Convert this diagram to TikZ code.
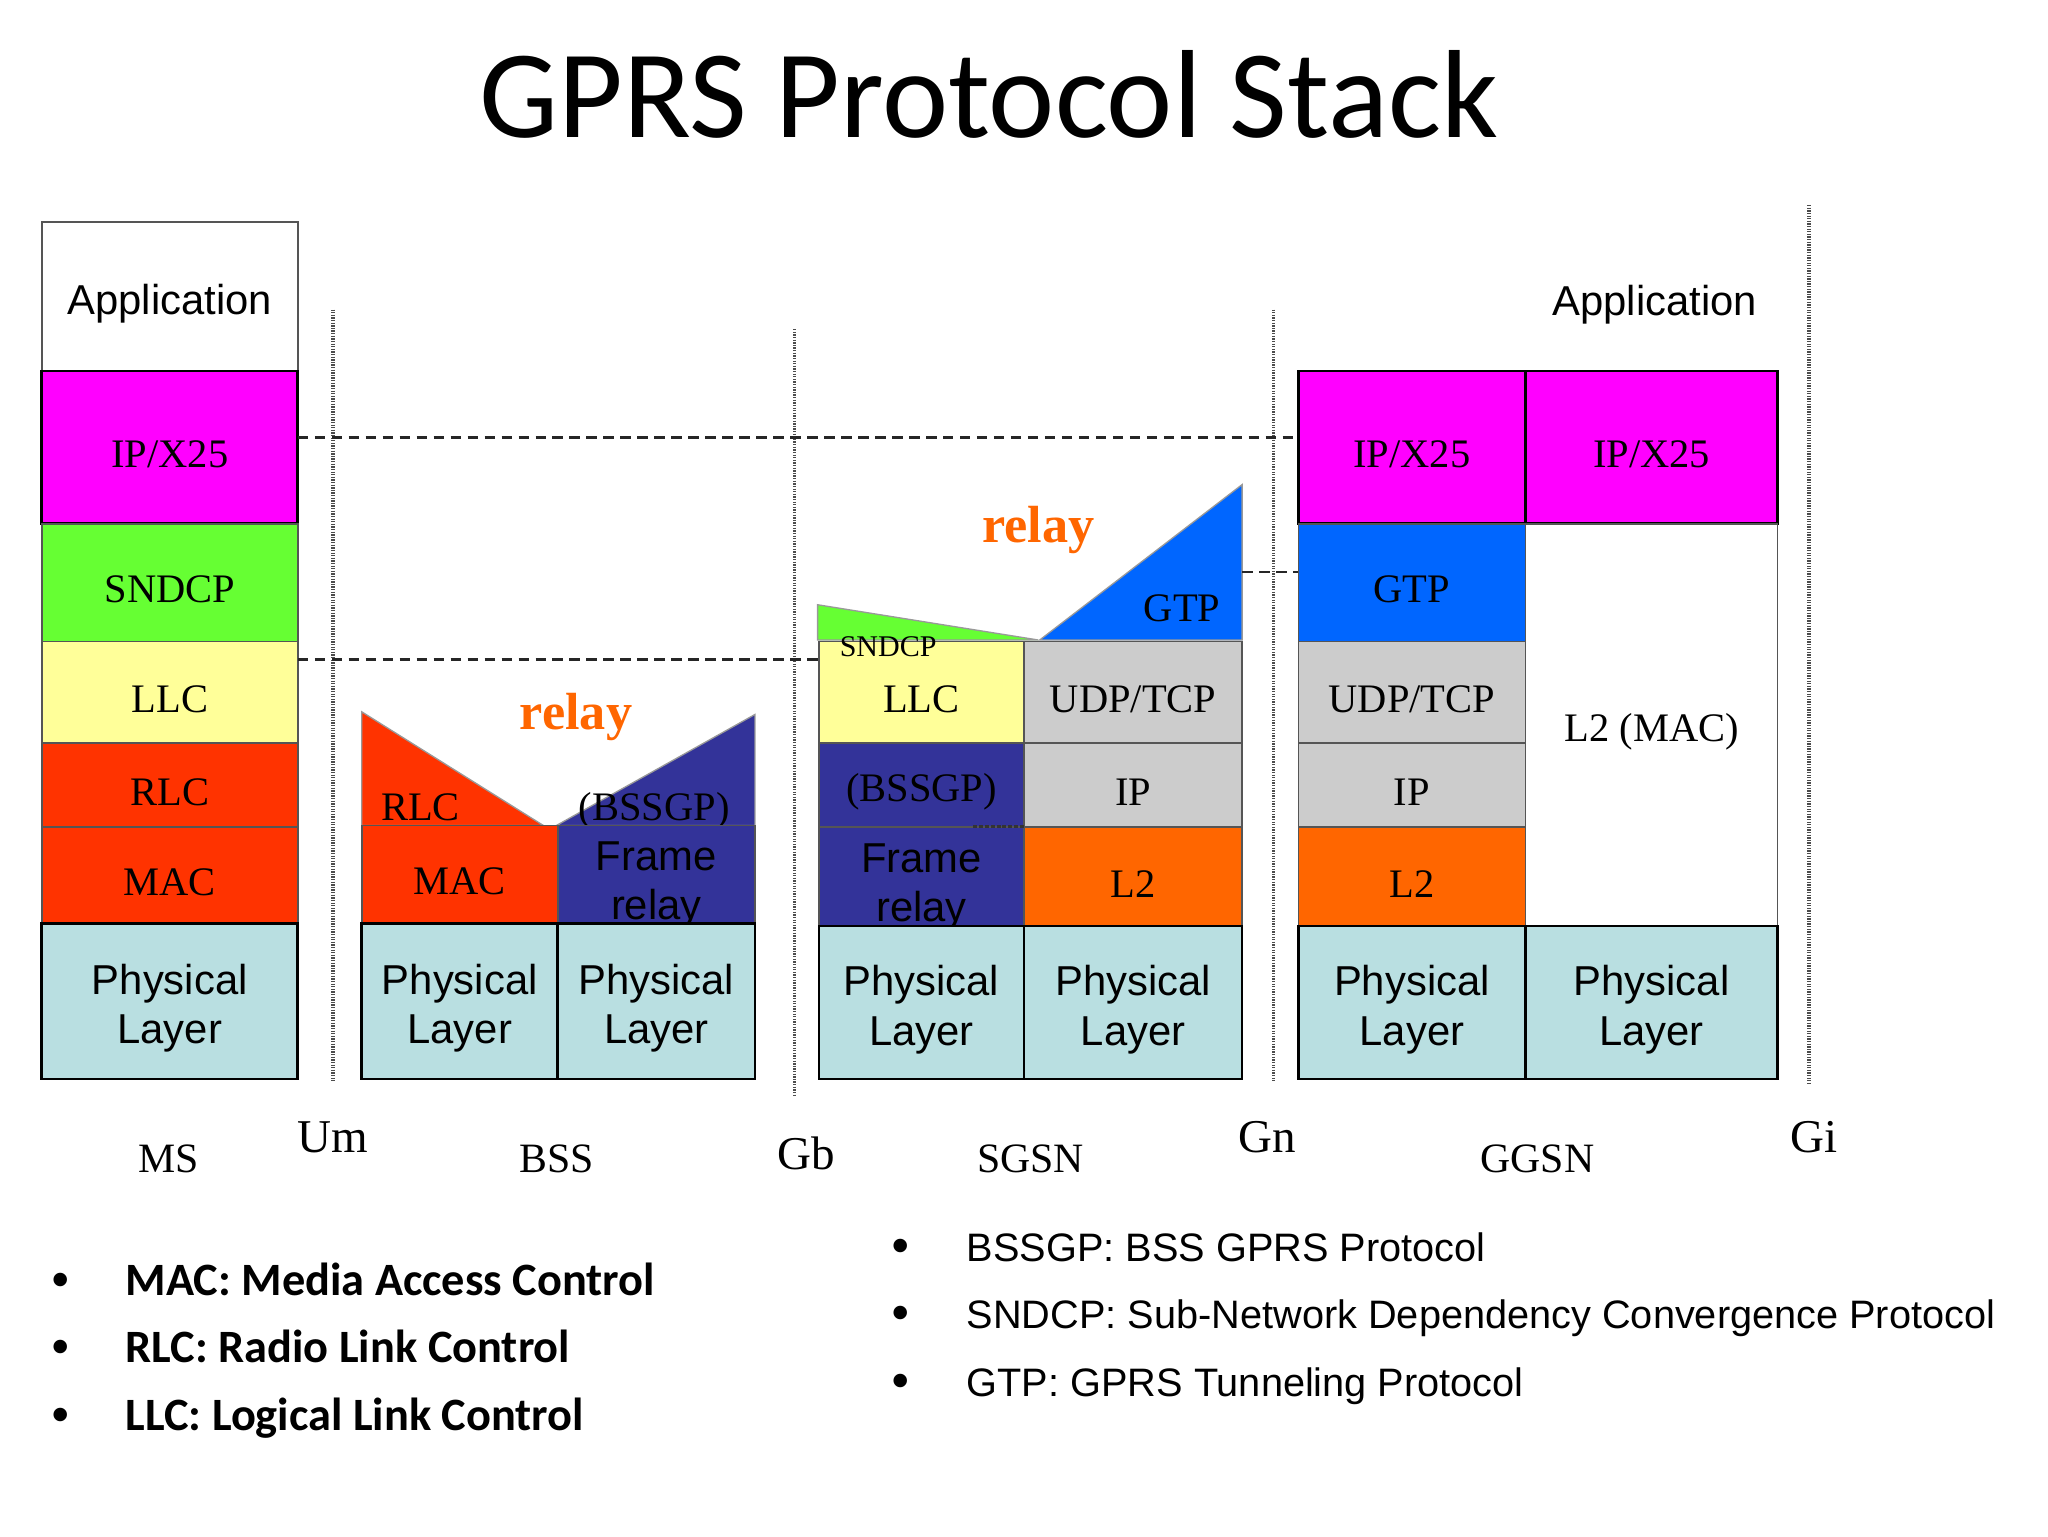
\documentclass[tikz,border=0pt]{standalone}
\usepackage{fontspec}
\setmainfont{Liberation Serif}
\newfontfamily\arialf{Liberation Sans}
\newfontfamily\calf{Carlito}

\definecolor{cMag}{HTML}{FF00FF}
\definecolor{cGrn}{HTML}{66FF33}
\definecolor{cYel}{HTML}{FFFF99}
\definecolor{cRed}{HTML}{FF3300}
\definecolor{cPhy}{HTML}{B9DFE1}
\definecolor{cNavy}{HTML}{333399}
\definecolor{cGry}{HTML}{CCCCCC}
\definecolor{cBlu}{HTML}{0066FF}
\definecolor{cOra}{HTML}{FF6600}
\definecolor{cBord}{HTML}{555555}

\tikzset{
 layer/.style={draw=cBord, line width=1.2pt, inner sep=0pt, outer sep=0pt, align=center, font=\fontsize{31}{34}\selectfont},
 blk/.style={draw=black, line width=2pt},
 phys/.style={layer, draw=black, line width=2pt, font=\arialf\fontsize{32}{38}\selectfont},
 sans/.style={font=\arialf\fontsize{32}{38}\selectfont},
 txt/.style={inner sep=0pt, font=\fontsize{31}{34}\selectfont},
 lbl/.style={inner sep=0pt, anchor=base, font=\fontsize{32}{36}\selectfont},
 iface/.style={inner sep=0pt, anchor=base, font=\fontsize{36}{40}\selectfont},
 relaytxt/.style={inner sep=0pt, text=cOra, font=\bfseries\fontsize{40}{44}\selectfont},
 vdot/.style={draw=black!70, line width=2.4pt, dash pattern=on 1pt off 1pt},
 dashline/.style={draw=black!85, line width=1.8pt, dash pattern=on 8pt off 5pt},
 shortdot/.style={draw=black!80, line width=2pt, dash pattern=on 3pt off 1.5pt},
 tri/.style={draw=black!40, line width=1pt},
 bul/.style={inner sep=0pt, anchor=base west},
}

\def\tsh{-5.5pt}
% [style]{name}{x1}{y1}{x2}{y2}{fill}{text}
\newcommand\lay[8][layer]{%
 \node[#1,fill=#7,minimum width={(#5-#3)*1pt},minimum height={(#6-#4)*1pt}] (#2) at ({(#3+#5)/2},{(#4+#6)/2}) {};
 \node[#1,draw=none,fill=none,minimum width=0pt,minimum height=0pt] (#2-t) at ([yshift=\tsh]#2.center) {#8};}

\begin{document}
\begin{tikzpicture}[x=1pt,y=-1pt]
\useasboundingbox[fill=white] (0,0) rectangle (1568,1176);

% title
\node[inner sep=0pt, anchor=base, font=\calf\fontsize{96}{100}\selectfont] (title) at (757,105) {GPRS Protocol Stack};

% interface dotted lines
\coordinate (um1) at (255,237); \coordinate (um2) at (255,828);
\coordinate (gb1) at (608,252); \coordinate (gb2) at (608,840);
\coordinate (gn1) at (975,237); \coordinate (gn2) at (975,828);
\coordinate (gi1) at (1385,157); \coordinate (gi2) at (1385,830);
\draw[vdot] (um1) -- (um2);
\draw[vdot] (gb1) -- (gb2);
\draw[vdot] (gn1) -- (gn2);
\draw[vdot] (gi1) -- (gi2);

% MS stack
\lay[layer,sans]{ms-app}{32}{170}{228}{284}{white}{Application}
\lay[layer,blk]{ms-ip}{32}{284}{228}{401}{cMag}{IP/X25}
\lay{ms-snd}{32}{401}{228}{491}{cGrn}{SNDCP}
\lay{ms-llc}{32}{491}{228}{569}{cYel}{LLC}
\lay{ms-rlc}{32}{569}{228}{633}{cRed}{RLC}
\lay{ms-mac}{32}{633}{228}{707}{cRed}{MAC}
\lay[phys]{ms-phy}{32}{707}{228}{826}{cPhy}{Physical\\Layer}

% BSS stack
\filldraw[tri, fill=cRed] (277,545) -- (416,632) -- (277,632) -- cycle;
\filldraw[tri, fill=cNavy] (426,632) -- (578,547) -- (578,632) -- cycle;
\node[txt] (bs-rlc) at (322,618) {RLC};
\node[txt] (bs-bssgp) at (501,621) {(BSSGP)};
\lay{bs-mac}{277}{632}{427}{707}{cRed}{MAC}
\def\tsh{-8pt}
\lay[layer,sans]{bs-fr}{427}{632}{578}{707}{cNavy}{Frame\\relay}
\def\tsh{-5.5pt}
\lay[phys]{bs-phy1}{277}{707}{427}{826}{cPhy}{Physical\\Layer}
\lay[phys]{bs-phy2}{427}{707}{578}{826}{cPhy}{Physical\\Layer}
\node[relaytxt] (bs-relay) at (441,549) {relay};

% SGSN stack
\filldraw[tri, fill=cGrn] (626,463) -- (795,490) -- (626,490) -- cycle;
\filldraw[tri, fill=cBlu] (796,490) -- (951,371) -- (951,490) -- cycle;
\lay{sg-llc}{627}{491}{784}{569}{cYel}{LLC}
\lay{sg-udp}{784}{491}{951}{569}{cGry}{UDP/TCP}
\lay{sg-bss}{627}{569}{784}{633}{cNavy}{(BSSGP)}
\lay{sg-ip}{784}{569}{951}{633}{cGry}{IP}
\def\tsh{-8pt}
\lay[layer,sans]{sg-fr}{627}{633}{784}{709}{cNavy}{Frame\\relay}
\def\tsh{-5.5pt}
\lay{sg-l2}{784}{633}{951}{709}{cOra}{L2}
\lay[phys]{sg-phy1}{627}{709}{784}{826}{cPhy}{Physical\\Layer}
\lay[phys]{sg-phy2}{784}{709}{951}{826}{cPhy}{Physical\\Layer}
\node[txt, font=\fontsize{23}{25}\selectfont] (sg-snd) at (680,495) {SNDCP};
\node[txt] (sg-gtp) at (905,466) {GTP};
\node[relaytxt] (sg-relay) at (795,406) {relay};
\draw[shortdot] (745,633) -- (sg-ip.south west);

% GGSN stack
\node[inner sep=0pt, font=\arialf\fontsize{32}{37}\selectfont] (gg-app) at (1267,233) {Application};
\lay[layer,blk]{gg-ip}{994}{284}{1168}{401}{cMag}{IP/X25}
\lay[layer,blk]{gg-ip2}{1168}{284}{1361}{401}{cMag}{IP/X25}
\lay{gg-gtp}{994}{401}{1168}{491}{cBlu}{GTP}
\lay{gg-udp}{994}{491}{1168}{569}{cGry}{UDP/TCP}
\lay{gg-ipl}{994}{569}{1168}{633}{cGry}{IP}
\lay{gg-l2}{994}{633}{1168}{709}{cOra}{L2}
\lay{gg-mac}{1168}{401}{1361}{709}{white}{L2 (MAC)}
\lay[phys]{gg-phy1}{994}{709}{1168}{826}{cPhy}{Physical\\Layer}
\lay[phys]{gg-phy2}{1168}{709}{1361}{826}{cPhy}{Physical\\Layer}

% dashed peer lines
\coordinate (d1) at (0,335);
\coordinate (d2) at (0,505);
\coordinate (d3) at (0,438);
\draw[dashline] (ms-ip.east |- d1) -- (gg-ip.west |- d1);
\draw[dashline] (ms-llc.east |- d2) -- (sg-llc.west |- d2);
\draw[dashline] (sg-udp.east |- d3) -- (gg-gtp.west |- d3);

% node / interface labels
\node[lbl] (l-ms) at (129,898) {MS};
\node[iface] (l-um) at (255,882) {Um};
\node[lbl] (l-bss) at (426,898) {BSS};
\node[iface] (l-gb) at (617,895) {Gb};
\node[lbl] (l-sgsn) at (789,898) {SGSN};
\node[iface] (l-gn) at (970,882) {Gn};
\node[lbl] (l-ggsn) at (1177,898) {GGSN};
\node[iface] (l-gi) at (1389,882) {Gi};

% legend left
\tikzset{lleg/.style={bul, font=\calf\bfseries\fontsize{35.5}{38}\selectfont},
         bdot/.style={bul, font=\arialf\bfseries\fontsize{36}{38}\selectfont}}
\node[bdot] (lb1) at (40,992) {•};
\node[lleg] (lt1) at (96,992) {MAC: Media Access Control};
\node[bdot] (lb2) at (40,1043) {•};
\node[lleg] (lt2) at (96,1043) {RLC: Radio Link Control};
\node[bdot] (lb3) at (40,1095) {•};
\node[lleg] (lt3) at (96,1095) {LLC: Logical Link Control};

% legend right
\tikzset{rleg/.style={bul, font=\arialf\fontsize{30.4}{32}\selectfont}}
\node[bdot] (rb1) at (683,966) {•};
\node[rleg] (rt1) at (740,966) {BSSGP: BSS GPRS Protocol};
\node[bdot] (rb2) at (683,1017) {•};
\node[rleg] (rt2) at (740,1017) {SNDCP: Sub-Network Dependency Convergence Protocol};
\node[bdot] (rb3) at (683,1069) {•};
\node[rleg] (rt3) at (740,1069) {GTP: GPRS Tunneling Protocol};
\end{tikzpicture}
\end{document}
